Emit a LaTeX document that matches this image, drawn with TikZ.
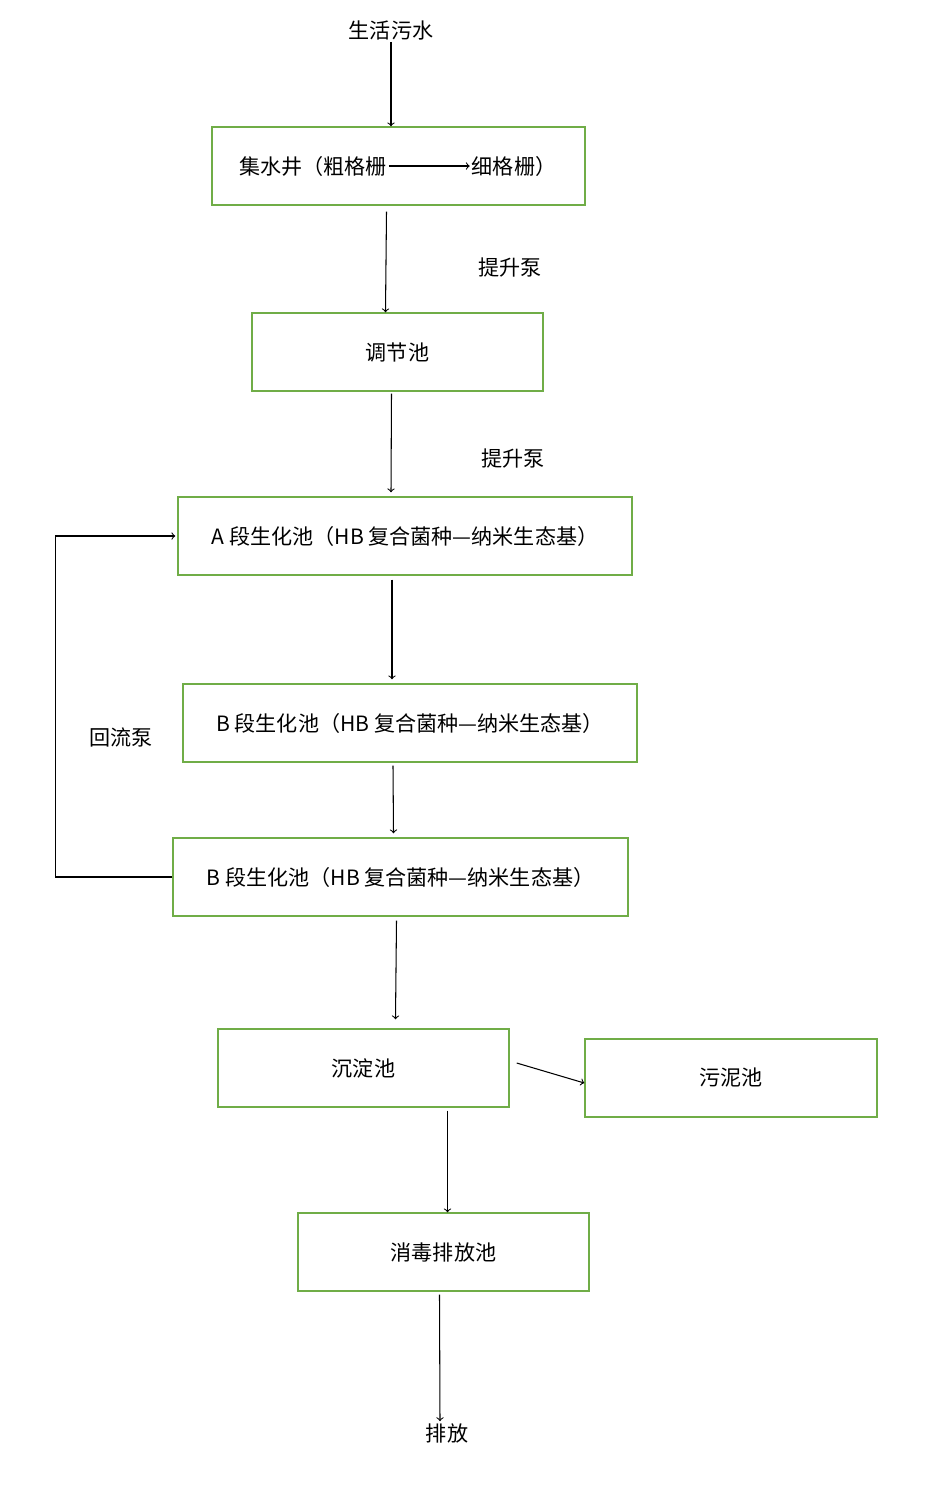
\documentclass[tikz,border=0pt]{standalone}
\usepackage{fontspec}
\setmainfont{Noto Sans CJK SC}[Scale=1]
\usetikzlibrary{positioning}
\definecolor{boxgreen}{RGB}{112,173,71}
\tikzset{
  box/.style={draw=boxgreen, line width=0.8pt, inner sep=0pt},
  lbl/.style={inner sep=1pt, font=\fontsize{12pt}{14pt}\selectfont},
  flow/.style={->, line width=0.6pt},
}
\begin{document}
\begin{tikzpicture}[x=0.02cm, y=-0.02cm]
\useasboundingbox (0,0) rectangle (930,1489);
% boxes
\node[box, minimum width=373*0.02cm, minimum height=78*0.02cm] (jsj) at (398.5,166) {};
\node[box, minimum width=291*0.02cm, minimum height=78*0.02cm, lbl] (tjc) at (397.5,352) {调节池};
\node[box, minimum width=454*0.02cm, minimum height=78*0.02cm, lbl] (aa) at (405,536) {A 段生化池（HB 复合菌种—纳米生态基）};
\node[box, minimum width=454*0.02cm, minimum height=78*0.02cm, lbl] (bb) at (410,723) {B 段生化池（HB 复合菌种—纳米生态基）};
\node[box, minimum width=455*0.02cm, minimum height=78*0.02cm, lbl] (bc) at (400.5,877) {B 段生化池（HB 复合菌种—纳米生态基）};
\node[box, minimum width=291*0.02cm, minimum height=78*0.02cm, lbl] (cdc) at (363.5,1068) {沉淀池};
\node[box, minimum width=292*0.02cm, minimum height=78*0.02cm, lbl] (wnc) at (731,1078) {污泥池};
\node[box, minimum width=291*0.02cm, minimum height=78*0.02cm, lbl] (xd) at (443.5,1252) {消毒排放池};
% texts
\node[lbl] (t1) at (313,166) {集水井（粗格栅};
\node[lbl] (t2) at (514,166) {细格栅）};
\node[lbl] (src) at (391,30) {生活污水};
\node[lbl] (p1) at (510,268) {提升泵};
\node[lbl] (p2) at (513,459) {提升泵};
\node[lbl] (hl) at (121,737) {回流泵};
\node[lbl] (out) at (447,1433) {排放};
% connectors
\draw[flow] (t1.east) -- (t2.west);
\draw[flow] (src.south) -- (jsj.north -| src);
\draw[flow] ([xshift=-12*0.02cm, yshift=-6*0.02cm]jsj.south) -- ([xshift=-12*0.02cm]tjc.north);
\draw[flow] ([xshift=-6*0.02cm, yshift=-2*0.02cm]tjc.south) -- ([xshift=-14*0.02cm, yshift=4*0.02cm]aa.north);
\draw[flow] ([xshift=-13*0.02cm, yshift=-4*0.02cm]aa.south) -- ([xshift=-18*0.02cm, yshift=4*0.02cm]bb.north);
\draw[flow] ([xshift=-17*0.02cm, yshift=-3*0.02cm]bb.south) -- ([xshift=-7*0.02cm, yshift=4*0.02cm]bc.north);
\draw[flow] ([xshift=-4*0.02cm, yshift=-4*0.02cm]bc.south) -- ([xshift=32*0.02cm, yshift=9*0.02cm]cdc.north);
\draw[flow] ([xshift=7*0.02cm, yshift=5*0.02cm]cdc.east) -- ([yshift=-5*0.02cm]wnc.west);
\draw[flow] ([xshift=84*0.02cm, yshift=-3*0.02cm]cdc.south) -- ([xshift=4*0.02cm]xd.north);
\draw[flow] ([xshift=-4*0.02cm, yshift=-3*0.02cm]xd.south) -- ([xshift=-7*0.02cm]out.north);
\draw[flow] (bc.west) -- ++(-117,0) |- ([xshift=-2*0.02cm]aa.west);
\end{tikzpicture}
\end{document}
